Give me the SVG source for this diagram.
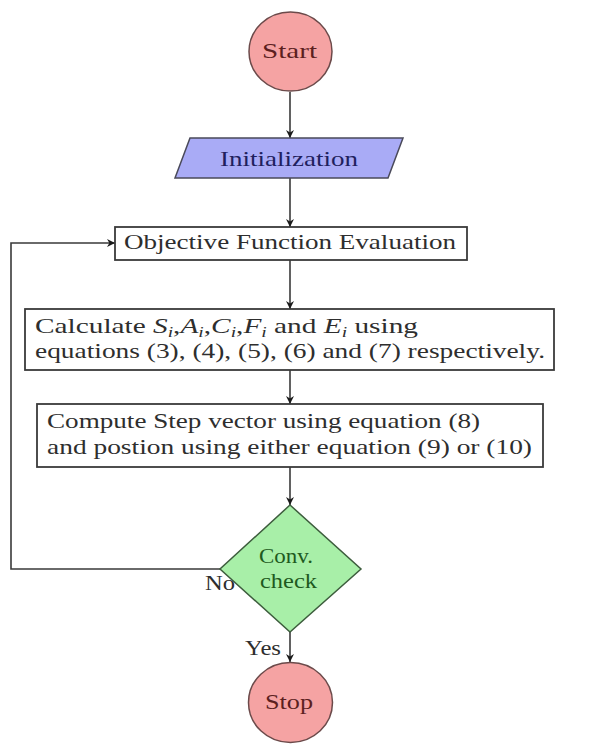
<svg xmlns="http://www.w3.org/2000/svg" width="614" height="751" viewBox="0 0 614 751">
<style>
  text { font-family: "Liberation Serif", "Times New Roman", serif; font-size: 21px; fill: #2e2e2e; }
  .edge { fill: none; stroke: #3a3a3a; stroke-width: 1.6; }
  .box { fill: #ffffff; stroke: #3a3a3a; stroke-width: 1.8; }
  .term { fill: #f5a3a3; stroke: #6b4a4a; stroke-width: 1.5; }
  .io { fill: #a9abf6; stroke: #4a4a5a; stroke-width: 1.5; }
  .dec { fill: #a8efa8; stroke: #3d5d3d; stroke-width: 1.5; }
  .red { fill: #5c1f1f; }
  .blue { fill: #1f1f5e; }
  .green { fill: #1e5a1e; }
  .m { font-style: italic; }
  .sub { font-size: 14px; font-style: italic; }
</style>
<defs>
  <marker id="arr" viewBox="0 0 10 10" refX="10" refY="5" markerWidth="8" markerHeight="8" markerUnits="userSpaceOnUse" orient="auto">
    <path d="M0,0 L10,5 L0,10 L3,5 Z" fill="#1a1a1a"/>
  </marker>
</defs>
<rect width="614" height="751" fill="#ffffff"/>
<g id="connectors">
  <line class="edge" x1="290" y1="92" x2="290" y2="138" marker-end="url(#arr)"/>
  <line class="edge" x1="290" y1="178" x2="290" y2="227" marker-end="url(#arr)"/>
  <line class="edge" x1="290" y1="260" x2="290" y2="309" marker-end="url(#arr)"/>
  <line class="edge" x1="290" y1="370" x2="290" y2="404" marker-end="url(#arr)"/>
  <line class="edge" x1="290" y1="467" x2="290" y2="505" marker-end="url(#arr)"/>
  <line class="edge" x1="290" y1="632" x2="290" y2="662" marker-end="url(#arr)"/>
  <polyline class="edge" points="220,569 11,569 11,243 115,243" marker-end="url(#arr)"/>
  <text x="205" y="590" textLength="30" lengthAdjust="spacingAndGlyphs">No</text>
  <text x="245" y="655" textLength="36" lengthAdjust="spacingAndGlyphs">Yes</text>
</g>
<g id="start">
  <ellipse class="term" cx="290.5" cy="51.5" rx="41.5" ry="39.5"/>
  <text class="red" x="262" y="58" textLength="55" lengthAdjust="spacingAndGlyphs">Start</text>
</g>
<g id="init">
  <polygon class="io" points="190,138 403,138 388,178 175,178"/>
  <text class="blue" x="220" y="166" textLength="138" lengthAdjust="spacingAndGlyphs">Initialization</text>
</g>
<g id="objective">
  <rect class="box" x="115" y="227" width="352" height="33"/>
  <text x="124" y="249" textLength="332" lengthAdjust="spacingAndGlyphs">Objective Function Evaluation</text>
</g>
<g id="calculate">
  <rect class="box" x="25" y="309" width="529" height="61"/>
  <text x="35" y="333" textLength="383" lengthAdjust="spacingAndGlyphs">Calculate <tspan class="m">S</tspan><tspan class="sub" dy="4">i</tspan><tspan dy="-4">,</tspan><tspan class="m">A</tspan><tspan class="sub" dy="4">i</tspan><tspan dy="-4">,</tspan><tspan class="m">C</tspan><tspan class="sub" dy="4">i</tspan><tspan dy="-4">,</tspan><tspan class="m">F</tspan><tspan class="sub" dy="4">i</tspan><tspan dy="-4"> and </tspan><tspan class="m">E</tspan><tspan class="sub" dy="4">i</tspan><tspan dy="-4"> using</tspan></text>
  <text x="35" y="358" textLength="510" lengthAdjust="spacingAndGlyphs">equations (3), (4), (5), (6) and (7) respectively.</text>
</g>
<g id="compute">
  <rect class="box" x="37" y="404" width="506" height="63"/>
  <text x="47" y="428" textLength="433" lengthAdjust="spacingAndGlyphs">Compute Step vector using equation (8)</text>
  <text x="47" y="454" textLength="485" lengthAdjust="spacingAndGlyphs">and postion using either equation (9) or (10)</text>
</g>
<g id="conv">
  <polygon class="dec" points="290,505 361,569 290,632 220,569"/>
  <text class="green" x="259" y="563" textLength="54" lengthAdjust="spacingAndGlyphs">Conv.</text>
  <text class="green" x="260" y="588" textLength="57" lengthAdjust="spacingAndGlyphs">check</text>
</g>
<g id="stop">
  <ellipse class="term" cx="290.5" cy="702.5" rx="42" ry="40"/>
  <text class="red" x="265" y="709" textLength="48" lengthAdjust="spacingAndGlyphs">Stop</text>
</g>
</svg>
